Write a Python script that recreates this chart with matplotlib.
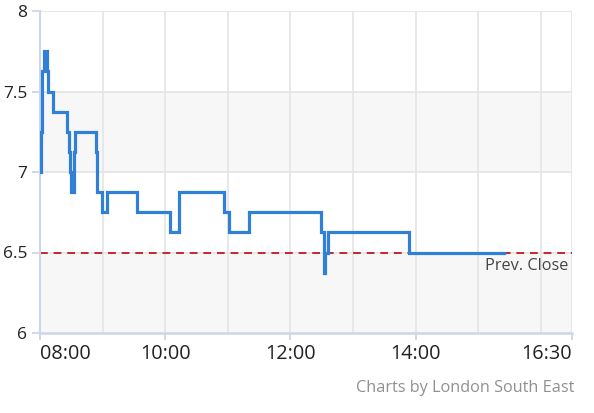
import numpy as np
import matplotlib
matplotlib.use("Agg")
import matplotlib.pyplot as plt

# trade times (HH:MM) and prices, step series
times = ["08:00", "08:01", "08:01", "08:02", "08:04", "08:07", "08:08", "08:12",
         "08:26", "08:28", "08:29", "08:30", "08:33", "08:34", "08:54", "08:55",
         "08:59", "09:04", "09:33", "10:05", "10:13", "10:56", "11:01", "11:20",
         "12:29", "12:32", "12:33", "12:36", "13:54", "15:25"]
prices = [7.0, 7.0, 7.25, 7.625, 7.75, 7.625, 7.5, 7.375,
          7.25, 7.125, 7.0, 6.875, 7.125, 7.25, 7.125, 6.875,
          6.75, 6.875, 6.75, 6.625, 6.875, 6.75, 6.625, 6.75,
          6.625, 6.375, 6.5, 6.625, 6.5, 6.5]
prev_close = 6.5
x_ticks = ["08:00", "10:00", "12:00", "14:00", "16:30"]
y_ticks = [6, 6.5, 7, 7.5, 8]


def to_hours(s):
    h, m = s.split(":")
    return int(h) + int(m) / 60


x = np.array([to_hours(t) for t in times])
# first point sits just after the open
x[0] = 8 + 1 / 60
y = np.array(prices)

fig = plt.figure(figsize=(5.94, 4.13), dpi=100)
ax = fig.add_axes([40 / 594, 80 / 413, 532 / 594, 322 / 413])

ax.set_xlim(8, 16.5)
ax.set_ylim(6, 8)

# alternating bands
for lo, hi in [(6, 6.5), (7, 7.5)]:
    ax.axhspan(lo, hi, color="#f7f7f7", zorder=0, lw=0)

# grid
for h in np.arange(9, 17):
    ax.axvline(h, color="#e6e6e6", lw=1.3, zorder=1)
ax.axvline(16.5, color="#e6e6e6", lw=1.3, zorder=1)
for v in y_ticks[1:]:
    ax.axhline(v, color="#e6e6e6", lw=1.3, zorder=1)

ax.axhline(prev_close, color="#c0282d", lw=1.4, ls=(0, (4, 3)), zorder=2)
ax.text(16.45, prev_close - 0.035, "Prev. Close", ha="right", va="top",
        fontsize=11.7, color="#444444", family="Open Sans")

ax.step(x, y, where="post", color="#3080d8", lw=2.3, zorder=3,
        solid_joinstyle="miter")

for s in ["top", "right"]:
    ax.spines[s].set_visible(False)
ax.spines["left"].set_color("#ccd6eb")
ax.spines["bottom"].set_color("#ccd6eb")
ax.spines["left"].set_linewidth(1.5)
ax.spines["bottom"].set_linewidth(1.8)

ax.set_xticks([to_hours(t) for t in x_ticks])
ax.set_xticklabels(x_ticks, fontsize=14.3, family="Open Sans", color="#222222")
ax.tick_params(axis="x", length=5, width=1.3, color="#ccd6eb", pad=3)
labels = ax.get_xticklabels()
labels[0].set_ha("left")
labels[-1].set_ha("right")

ax.set_yticks(y_ticks)
ax.set_yticklabels([f"{v:g}" for v in y_ticks], fontsize=12.5,
                   family="Open Sans", color="#222222")
ax.tick_params(axis="y", length=6, width=1.3, color="#ccd6eb", pad=3)

fig.text(574 / 594, 1 - 388 / 413, "Charts by London South East", ha="right",
         va="center", fontsize=11.7, color="#909090", family="Open Sans")

fig.savefig("out.png", dpi=100)
